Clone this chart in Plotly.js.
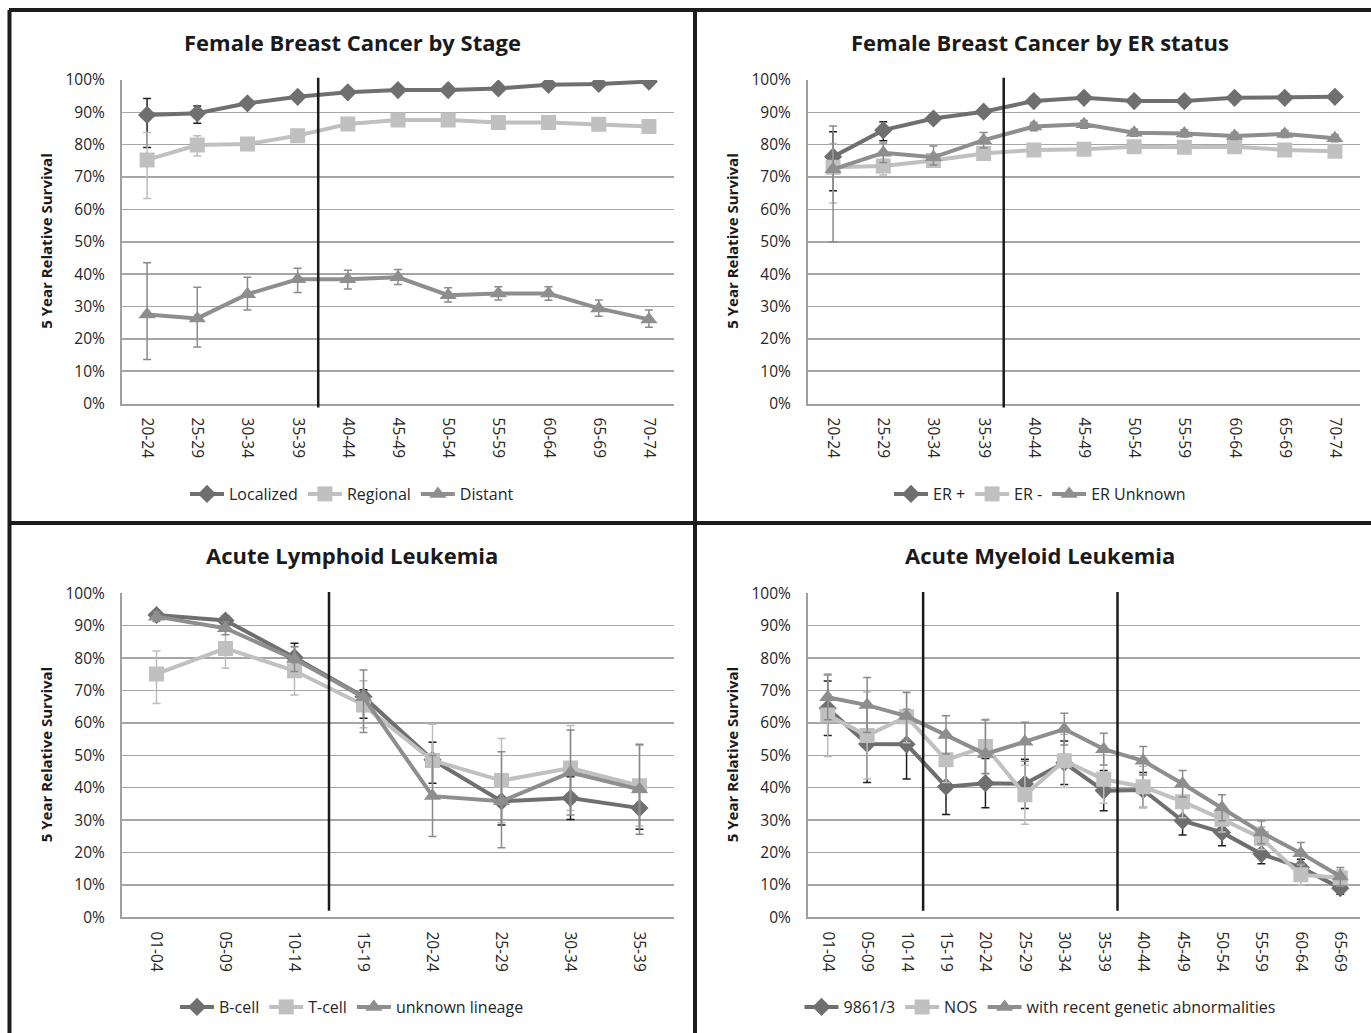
<!DOCTYPE html>
<html>
<head>
<meta charset="utf-8">
<script src="https://cdn.plot.ly/plotly-3.0.1.min.js"></script>
<style>html,body{margin:0;padding:0;background:#fff;}#chart{width:1371px;height:1033px;}</style>
</head>
<body>
<div id="chart"></div>
<script>
// ---------- DATA ----------
const stageAges = ['20-24','25-29','30-34','35-39','40-44','45-49','50-54','55-59','60-64','65-69','70-74'];
const localized   = [89.2, 89.7, 92.8, 94.8, 96.2, 96.9, 96.9, 97.4, 98.5, 98.8, 99.5];
const localizedHi = [94.3, 92.0, 93.5, 95.4, 96.7, 97.3, 97.3, 97.8, 98.9, 99.3, 100.0];
const localizedLo = [79.1, 86.6, 92.0, 94.2, 95.7, 96.5, 96.5, 97.0, 98.1, 98.3, 98.9];
const regional    = [75.3, 79.9, 80.2, 82.8, 86.4, 87.6, 87.6, 86.9, 86.9, 86.3, 85.6];
const regionalHi  = [83.8, 82.8, 81.2, 83.8, 87.3, 88.4, 88.4, 87.7, 87.6, 87.1, 86.5];
const regionalLo  = [63.4, 76.5, 79.2, 81.8, 85.5, 86.8, 86.8, 86.1, 86.2, 85.5, 84.7];
const distant     = [27.5, 26.3, 33.8, 38.4, 38.4, 39.0, 33.5, 34.0, 34.0, 29.4, 26.0];
const distantHi   = [43.5, 35.9, 39.0, 41.8, 41.2, 41.4, 35.8, 36.1, 36.1, 32.0, 28.9];
const distantLo   = [13.6, 17.5, 28.9, 34.3, 35.4, 36.8, 31.4, 32.0, 31.9, 27.0, 23.6];

const erAges = stageAges;
const erPos   = [76.3, 84.5, 88.1, 90.2, 93.5, 94.5, 93.5, 93.5, 94.5, 94.5, 94.8];
const erPosHi = [84.0, 87.1, 89.2, 90.8, 94.0, 95.0, 94.0, 94.0, 95.0, 95.0, 95.3];
const erPosLo = [65.8, 81.2, 87.0, 89.6, 93.0, 94.0, 93.0, 93.0, 94.0, 94.0, 94.3];
const erNeg   = [73.0, 73.4, 75.1, 77.3, 78.4, 78.6, 79.4, 79.2, 79.4, 78.4, 78.0];
const erNegHi = [80.4, 75.5, 76.3, 78.3, 79.2, 79.4, 80.2, 80.0, 80.2, 79.2, 78.8];
const erNegLo = [62.0, 70.6, 73.9, 76.3, 77.6, 77.8, 78.6, 78.4, 78.6, 77.6, 77.2];
const erUnk   = [72.4, 77.5, 76.1, 81.4, 85.6, 86.3, 83.7, 83.5, 82.7, 83.3, 82.0];
const erUnkHi = [85.8, 80.5, 79.6, 83.8, 86.9, 87.5, 84.8, 84.6, 83.8, 84.4, 83.1];
const erUnkLo = [50.0, 74.5, 73.7, 79.0, 84.3, 85.1, 82.6, 82.4, 81.6, 82.2, 80.9];

const allAges = ['01-04','05-09','10-14','15-19','20-24','25-29','30-34','35-39'];
const bCell   = [93.3, 91.6, 80.2, 68.1, 48.6, 35.8, 36.8, 33.7];
const bCellHi = [94.1, 93.0, 84.6, 70.2, 54.0, 43.1, 43.4, 40.2];
const bCellLo = [92.5, 90.2, 75.8, 61.4, 41.4, 28.5, 30.2, 27.2];
const tCell   = [75.1, 83.0, 76.1, 65.5, 48.4, 42.2, 46.1, 40.6];
const tCellHi = [82.2, 89.1, 83.6, 73.0, 59.6, 55.2, 59.2, 53.0];
const tCellLo = [66.0, 76.9, 68.6, 58.5, 37.2, 29.2, 33.0, 28.2];
const unkLin   = [92.8, 89.2, 79.7, 67.9, 37.4, 35.8, 44.7, 39.5];
const unkLinHi = [94.3, 91.2, 83.5, 76.3, 49.9, 51.1, 57.8, 53.4];
const unkLinLo = [91.3, 87.2, 75.9, 57.0, 24.9, 21.5, 31.6, 25.6];

const amlAges = ['01-04','05-09','10-14','15-19','20-24','25-29','30-34','35-39','40-44','45-49','50-54','55-59','60-64','65-69'];
const aml9861   = [64.5, 53.5, 53.4, 40.3, 41.4, 41.2, 47.7, 39.1, 39.3, 29.8, 26.2, 19.5, 15.4, 9.0];
const aml9861Hi = [72.9, 65.4, 64.1, 48.9, 49.0, 48.8, 54.4, 45.3, 44.7, 34.2, 30.3, 22.5, 17.9, 10.9];
const aml9861Lo = [56.1, 41.6, 42.7, 31.7, 33.8, 33.6, 41.0, 32.9, 33.9, 25.4, 22.1, 16.5, 12.9, 7.1];
const amlNos   = [62.4, 56.1, 61.9, 48.6, 52.7, 37.8, 48.3, 42.6, 40.3, 35.7, 30.3, 24.4, 13.1, 12.2];
const amlNosHi = [75.2, 69.5, 69.9, 55.6, 61.1, 46.9, 56.5, 50.0, 46.6, 40.7, 34.3, 27.9, 16.2, 14.7];
const amlNosLo = [49.6, 42.7, 53.9, 41.6, 44.3, 28.7, 40.1, 35.2, 34.0, 30.7, 26.3, 20.9, 10.0, 9.7];
const amlGen   = [67.9, 65.5, 62.1, 56.3, 50.4, 54.2, 58.1, 51.9, 48.3, 41.2, 33.8, 26.2, 19.8, 12.6];
const amlGenHi = [74.8, 74.0, 69.4, 62.2, 60.9, 60.2, 63.0, 56.8, 52.7, 45.3, 37.8, 29.7, 23.1, 15.4];
const amlGenLo = [61.0, 57.0, 54.8, 50.4, 44.4, 48.2, 53.2, 47.0, 43.9, 37.1, 29.8, 22.7, 16.5, 9.8];

const panelTitles = ['Female Breast Cancer by Stage', 'Female Breast Cancer by ER status', 'Acute Lymphoid Leukemia', 'Acute Myeloid Leukemia'];
const yTitle = '5 Year Relative Survival';

// ---------- STYLE ----------
const W = 1371, H = 1033;
const FONT = '"Open Sans", Lato, sans-serif';
const DARK = '#6f6f6f', LIGHT = '#c0c0c0', MID = '#8e8e8e';
const styles = {
  dark:  {color: DARK,  err: '#1e1e1e', symbol: 'diamond', size: 14},
  light: {color: LIGHT, err: '#bcbcbc', symbol: 'square', size: 15},
  mid:   {color: MID,   err: '#8a8a8a', symbol: 'triangle-up', size: 15}
};

function mkTrace(name, x, y, hi, lo, st, ax, leg) {
  const s = styles[st];
  return {
    type: 'scatter', mode: 'lines+markers', name: name, x: x, y: y,
    xaxis: ax[0], yaxis: ax[1], legend: leg,
    line: {color: s.color, width: 4},
    marker: {symbol: s.symbol, size: s.size, color: s.color},
    error_y: {type: 'data', symmetric: false,
      array: hi.map((v, i) => +(v - y[i]).toFixed(2)),
      arrayminus: lo.map((v, i) => +(y[i] - v).toFixed(2)),
      color: s.err, thickness: 1.5, width: 4}
  };
}

const data = [
  mkTrace('Localized', stageAges, localized, localizedHi, localizedLo, 'dark', ['x','y'], 'legend'),
  mkTrace('Regional', stageAges, regional, regionalHi, regionalLo, 'light', ['x','y'], 'legend'),
  mkTrace('Distant', stageAges, distant, distantHi, distantLo, 'mid', ['x','y'], 'legend'),
  mkTrace('ER +', erAges, erPos, erPosHi, erPosLo, 'dark', ['x2','y2'], 'legend2'),
  mkTrace('ER -', erAges, erNeg, erNegHi, erNegLo, 'light', ['x2','y2'], 'legend2'),
  mkTrace('ER Unknown', erAges, erUnk, erUnkHi, erUnkLo, 'mid', ['x2','y2'], 'legend2'),
  mkTrace('B-cell', allAges, bCell, bCellHi, bCellLo, 'dark', ['x3','y3'], 'legend3'),
  mkTrace('T-cell', allAges, tCell, tCellHi, tCellLo, 'light', ['x3','y3'], 'legend3'),
  mkTrace('unknown lineage', allAges, unkLin, unkLinHi, unkLinLo, 'mid', ['x3','y3'], 'legend3'),
  mkTrace('9861/3', amlAges, aml9861, aml9861Hi, aml9861Lo, 'dark', ['x4','y4'], 'legend4'),
  mkTrace('NOS', amlAges, amlNos, amlNosHi, amlNosLo, 'light', ['x4','y4'], 'legend4'),
  mkTrace('with recent genetic abnormalities', amlAges, amlGen, amlGenHi, amlGenLo, 'mid', ['x4','y4'], 'legend4')
];

// pixel geometry of the four plot areas
const px = (v) => v / W, py = (v) => 1 - v / H;
const panels = [
  {x0: 122, x1: 674, top: 80, bot: 403.5, n: stageAges.length, cx: 352, tY: 42, legY: 494, ytX: 46},
  {x0: 808, x1: 1360, top: 80, bot: 403.5, n: erAges.length, cx: 1040, tY: 42, legY: 494, ytX: 732},
  {x0: 122, x1: 674, top: 593.3, bot: 917.3, n: allAges.length, cx: 352, tY: 555, legY: 1007, ytX: 46},
  {x0: 808, x1: 1360, top: 593.3, bot: 917.3, n: amlAges.length, cx: 1040, tY: 555, legY: 1007, ytX: 732}
];

const layout = {
  width: W, height: H, margin: {l: 0, r: 0, t: 0, b: 0},
  paper_bgcolor: '#fff', plot_bgcolor: '#fff',
  font: {family: FONT, color: '#262626', size: 15},
  showlegend: true, annotations: [], shapes: []
};

panels.forEach((p, i) => {
  const k = i === 0 ? '' : String(i + 1);
  layout['xaxis' + k] = {
    domain: [px(p.x0), px(p.x1)], anchor: 'y' + k, type: 'category',
    range: [-0.5, p.n - 0.5], tickangle: 90, showgrid: false,
    showline: true, linecolor: '#a0a0a0', linewidth: 2,
    ticks: 'outside', ticklen: 9, tickcolor: 'rgba(0,0,0,0)',
    tickfont: {family: FONT, size: 15.5, color: '#262626'}, fixedrange: true
  };
  layout['yaxis' + k] = {
    domain: [py(p.bot), py(p.top)], anchor: 'x' + k, range: [0, 100],
    dtick: 10, ticksuffix: '%', showgrid: true, gridcolor: '#a6a6a6', gridwidth: 1.5,
    zeroline: false, showline: true, linecolor: '#a0a0a0', linewidth: 2,
    ticks: 'outside', ticklen: 12, tickcolor: 'rgba(0,0,0,0)',
    tickfont: {family: FONT, size: 15.5, color: '#262626'}, fixedrange: true
  };
  const legKey = i === 0 ? 'legend' : 'legend' + (i + 1);
  layout[legKey] = {
    orientation: 'h', x: px(p.cx), xanchor: 'center', y: py(p.legY), yanchor: 'middle',
    bgcolor: 'rgba(0,0,0,0)', font: {family: FONT, size: 16, color: '#262626'},
    itemwidth: 34, tracegroupgap: 0
  };
  layout.annotations.push({
    text: '<b>' + panelTitles[i] + '</b>', xref: 'paper', yref: 'paper',
    x: px(p.cx), y: py(p.tY), xanchor: 'center', yanchor: 'middle', showarrow: false,
    font: {family: FONT, size: 22, color: '#1a1a1a'}
  });
  layout.annotations.push({
    text: '<b>' + yTitle + '</b>', xref: 'paper', yref: 'paper', textangle: -90,
    x: px(p.ytX), y: py((p.top + p.bot) / 2), xanchor: 'center', yanchor: 'middle', showarrow: false,
    font: {family: FONT, size: 15, color: '#1a1a1a'}
  });
});

// vertical separators inside panels (category positions)
const vlines = [
  {ax: 'x', yax: 'y', x: 3.41, y0: -0.012, y1: 1.007},
  {ax: 'x2', yax: 'y2', x: 3.40, y0: -0.012, y1: 1.007},
  {ax: 'x3', yax: 'y3', x: 2.5, y0: 0.02, y1: 1.004},
  {ax: 'x4', yax: 'y4', x: 2.42, y0: 0.02, y1: 1.004},
  {ax: 'x4', yax: 'y4', x: 7.35, y0: 0.02, y1: 1.004}
];
vlines.forEach(v => layout.shapes.push({
  type: 'line', xref: v.ax, yref: v.yax + ' domain', x0: v.x, x1: v.x, y0: v.y0, y1: v.y1,
  line: {color: '#1a1a1a', width: 2.5}
}));

// panel frame lines
const frame = [
  [9, 10, W, 10], [9.5, 10, 9.5, H], [695, 10, 695, H], [9, 523, W, 523]
];
frame.forEach(f => layout.shapes.push({
  type: 'line', xref: 'paper', yref: 'paper',
  x0: px(f[0]), y0: py(f[1]), x1: px(f[2]), y1: py(f[3]),
  line: {color: '#1c1c1c', width: 4}
}));

Plotly.newPlot('chart', data, layout, {displayModeBar: false, staticPlot: true});
</script>
</body>
</html>
